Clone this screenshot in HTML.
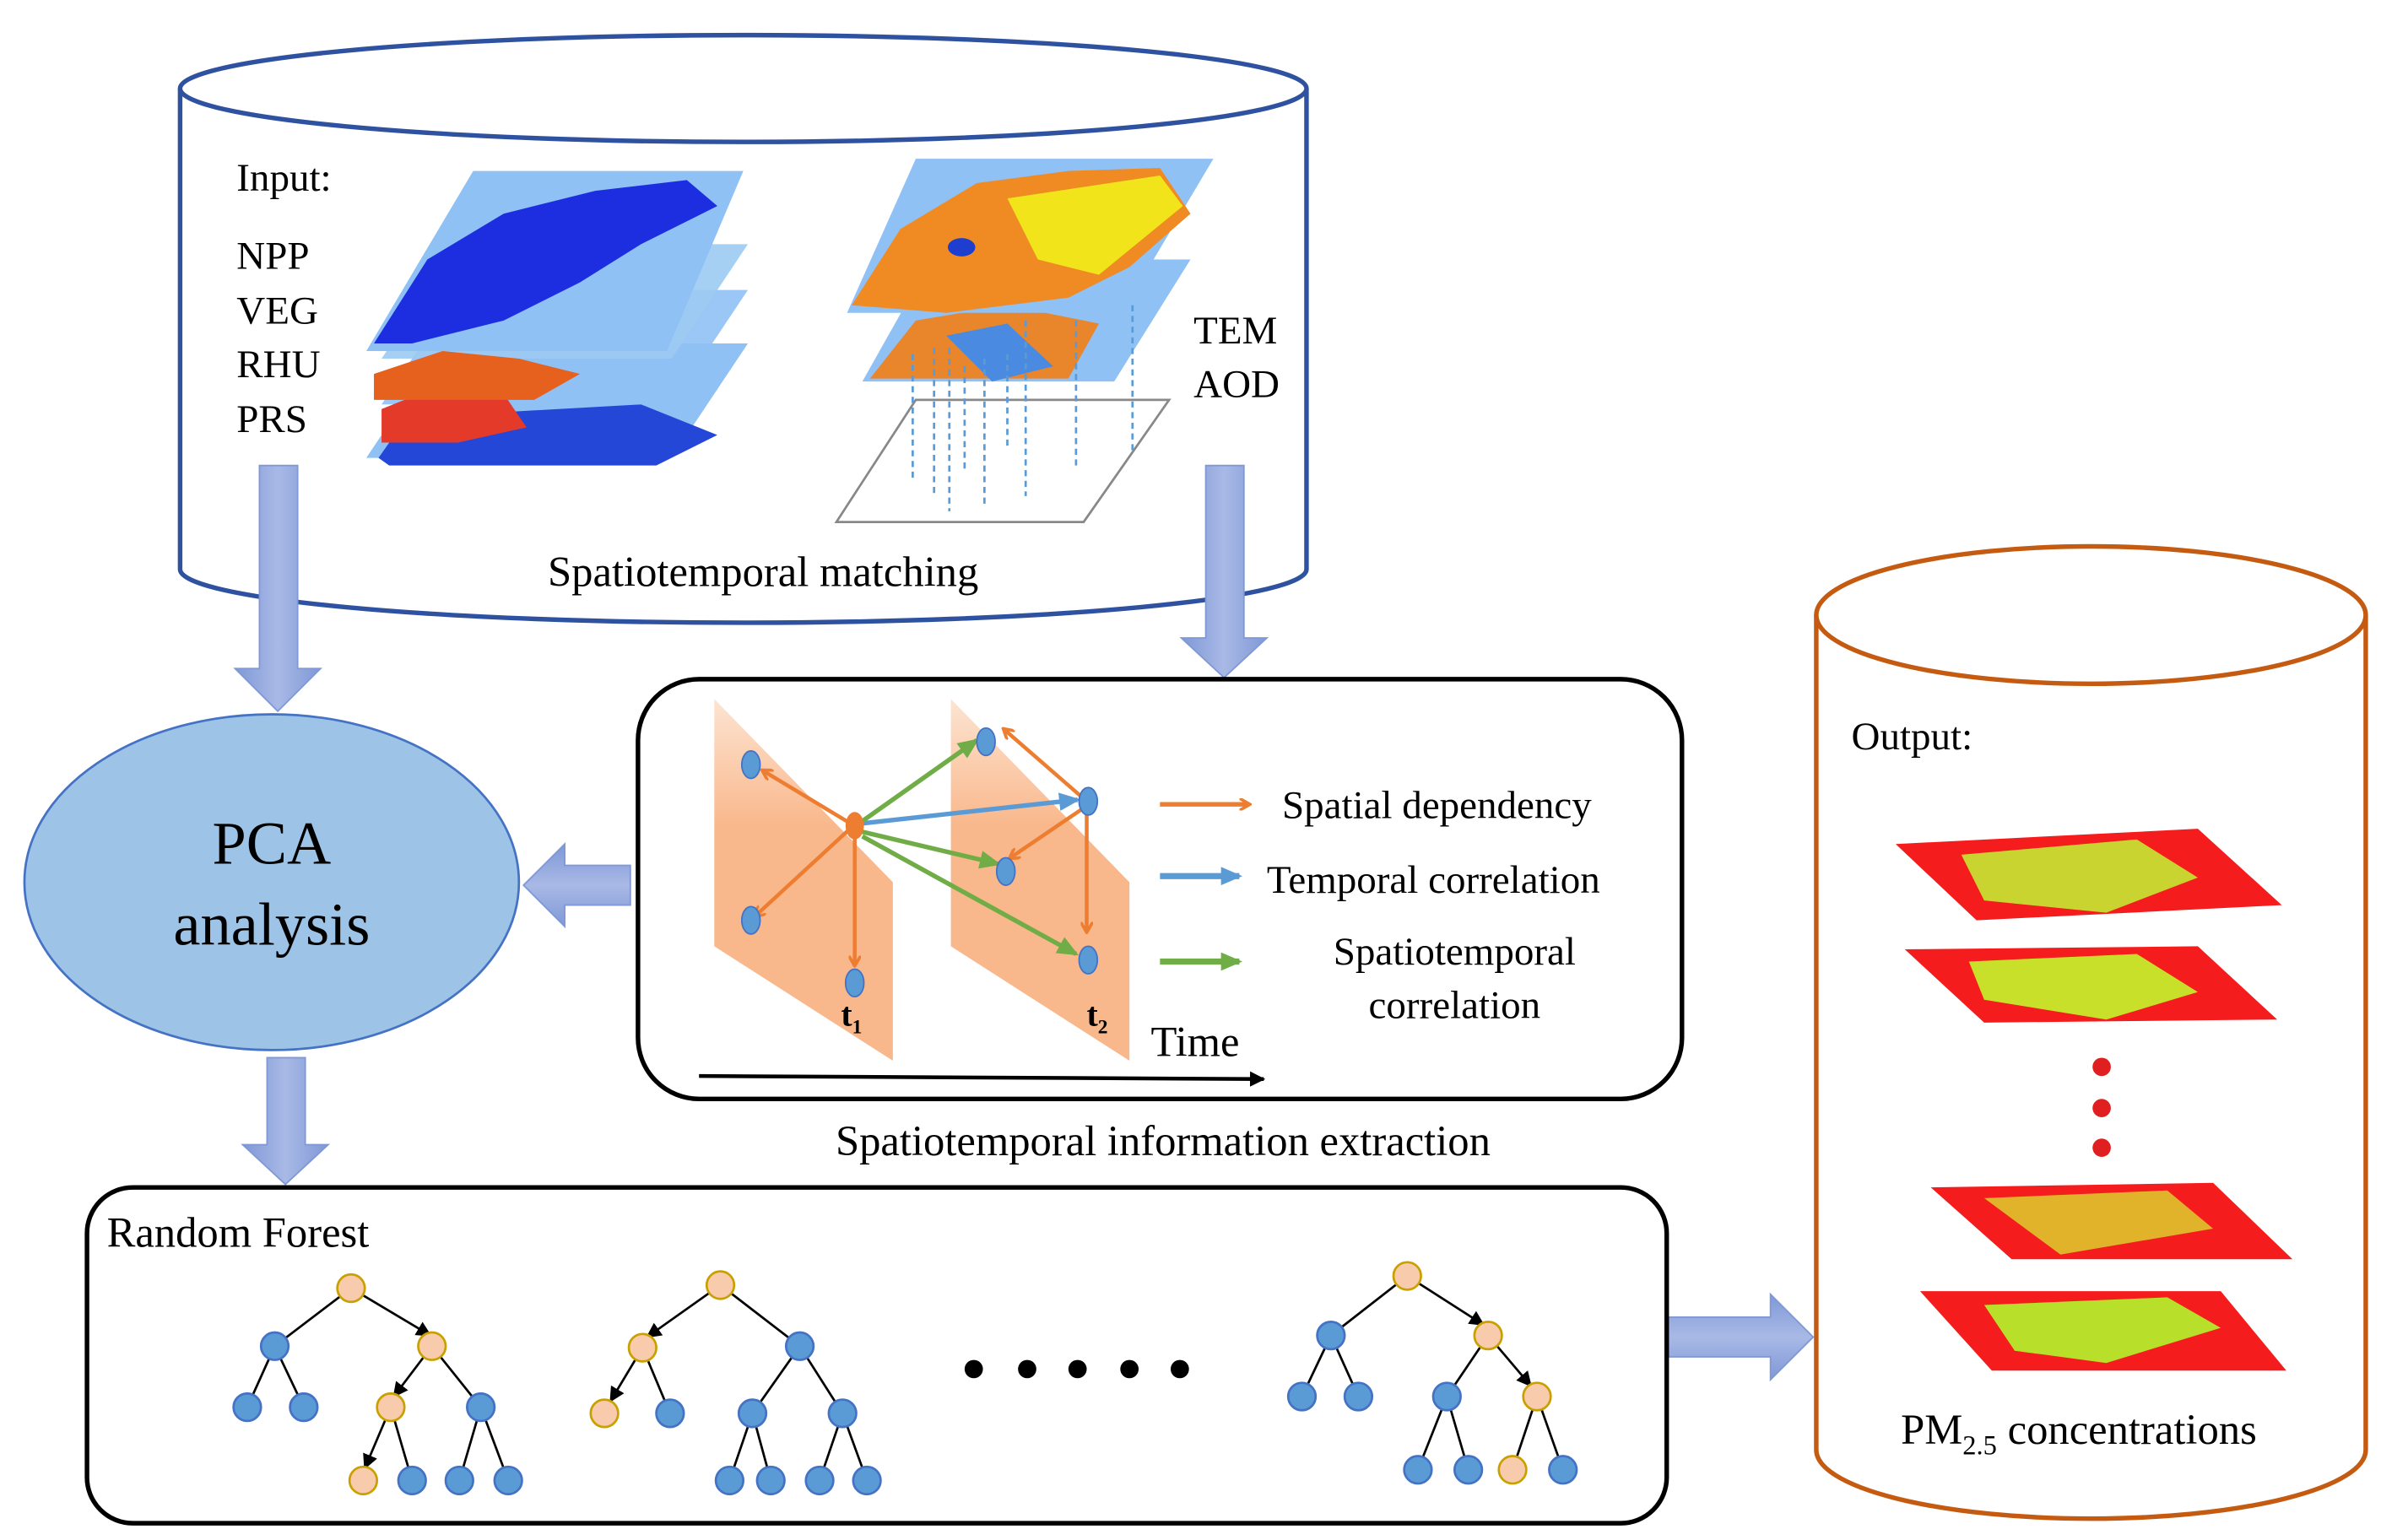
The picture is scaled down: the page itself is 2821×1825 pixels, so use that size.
<!DOCTYPE html>
<html><head><meta charset="utf-8"><style>
html,body{margin:0;padding:0;background:#fff;width:2821px;height:1825px;overflow:hidden}
svg{display:block}
svg text{font-family:"Liberation Serif","DejaVu Serif",serif !important;fill:#000}
</style></head><body>
<svg width="2821" height="1825" viewBox="0 0 1560 1009" preserveAspectRatio="none" xmlns="http://www.w3.org/2000/svg" font-family="Liberation Serif, DejaVu Serif, serif">
<defs>
<linearGradient id="ar" x1="0" y1="0" x2="1" y2="0"><stop offset="0" stop-color="#7f98d6"/><stop offset="0.5" stop-color="#a9b9e6"/><stop offset="1" stop-color="#7f98d6"/></linearGradient>
<linearGradient id="arv" x1="0" y1="0" x2="0" y2="1"><stop offset="0" stop-color="#7f98d6"/><stop offset="0.5" stop-color="#a9b9e6"/><stop offset="1" stop-color="#7f98d6"/></linearGradient>
<linearGradient id="pl" x1="0" y1="0" x2="0" y2="1"><stop offset="0" stop-color="#fde4d2"/><stop offset="0.35" stop-color="#f9b88c"/><stop offset="1" stop-color="#f9b88c"/></linearGradient>
<marker id="mo" markerWidth="8" markerHeight="8" refX="6" refY="4" orient="auto" markerUnits="userSpaceOnUse"><path d="M0,0 L7,4 L0,8" fill="none" stroke="#ed7d31" stroke-width="2"/></marker>
<marker id="mb" markerWidth="14" markerHeight="12" refX="12" refY="6" orient="auto" markerUnits="userSpaceOnUse"><path d="M0,0 L14,6 L0,12z" fill="#5b9bd5"/></marker>
<marker id="mg" markerWidth="14" markerHeight="12" refX="12" refY="6" orient="auto" markerUnits="userSpaceOnUse"><path d="M0,0 L14,6 L0,12z" fill="#70ad47"/></marker>
<marker id="mk" markerWidth="10" markerHeight="10" refX="9" refY="5" orient="auto" markerUnits="userSpaceOnUse"><path d="M0,0 L10,5 L0,10z" fill="#000"/></marker>
</defs>

<path d="M118,58 L118,373 A369,35 0 0 0 856,373 L856,58" fill="#fff" stroke="#2f52a0" stroke-width="3"/>
<ellipse cx="487" cy="58" rx="369" ry="35" fill="#fff" stroke="#2f52a0" stroke-width="3"/>
<text x="155" y="125" font-size="26">Input:</text>
<text x="155" y="176" font-size="26">NPP</text>
<text x="155" y="212" font-size="26">VEG</text>
<text x="155" y="247" font-size="26">RHU</text>
<text x="155" y="283" font-size="26">PRS</text>
<text x="782" y="225" font-size="26">TEM</text>
<text x="782" y="260" font-size="26">AOD</text>
<polygon points="290,225 490,225 440,300 240,300" fill="#8fc1f5"/>
<path d="M248,300 L262,280 L330,270 L420,265 L470,285 L430,305 L255,305z" fill="#2447d8"/>
<polygon points="300,190 490,190 440,265 250,265" fill="#8fc1f5" opacity="0.9"/>
<path d="M250,268 L265,262 L330,258 L345,280 L300,290 L250,290z" fill="#e43a2a"/>
<polygon points="300,160 490,160 440,235 250,235" fill="#9ccaf3" opacity="0.9"/>
<path d="M245,245 L290,230 L340,235 L380,245 L350,262 L245,262z" fill="#e6601e"/>
<polygon points="310,112 487,112 437,230 240,230" fill="#8fc1f5"/>
<path d="M245,225 L280,170 L330,140 L390,125 L450,118 L470,135 L420,160 L380,185 L330,210 L270,225z" fill="#1d2ee0"/>
<polygon points="600,262 766,262 710,342 548,342" fill="#fff" stroke="#888" stroke-width="1.5"/>
<polygon points="610,170 780,170 730,250 565,250" fill="#8fc1f5"/>
<path d="M570,248 L600,210 L660,200 L720,212 L700,248z" fill="#e9852a"/>
<path d="M620,220 L660,212 L690,240 L650,250z" fill="#4a8ae0"/>
<polygon points="600,104 795,104 735,205 555,205" fill="#8fc1f5"/>
<path d="M558,200 L590,150 L640,120 L700,112 L760,110 L780,140 L740,175 L700,195 L620,205z" fill="#f08a22"/>
<path d="M660,130 L760,115 L775,135 L720,180 L680,170z" fill="#f2e41b"/>
<ellipse cx="630" cy="162" rx="9" ry="6" fill="#1e3ed0"/>
<g stroke="#5b9bd5" stroke-width="1.5" stroke-dasharray="4,3">
<line x1="598" y1="232" x2="598" y2="315"/><line x1="612" y1="228" x2="612" y2="325"/><line x1="622" y1="228" x2="622" y2="335"/><line x1="632" y1="240" x2="632" y2="310"/><line x1="645" y1="235" x2="645" y2="330"/><line x1="660" y1="232" x2="660" y2="295"/><line x1="672" y1="210" x2="672" y2="325"/><line x1="705" y1="210" x2="705" y2="305"/><line x1="742" y1="200" x2="742" y2="295"/>
</g>
<text x="500" y="384" font-size="28" text-anchor="middle">Spatiotemporal matching</text>

<polygon points="170,305 195,305 195,438 210,438 182,466 154,438 170,438" fill="url(#ar)" stroke="#7f98d6"/>
<polygon points="790,305 815,305 815,418 830,418 802,444 774,418 790,418" fill="url(#ar)" stroke="#7f98d6"/>
<polygon points="413,567 370,567 370,553 343,580 370,607 370,593 413,593" fill="url(#arv)" stroke="#7f98d6"/>
<polygon points="175,693 200,693 200,750 215,750 187,776 159,750 175,750" fill="url(#ar)" stroke="#7f98d6"/>
<polygon points="1093,863 1160,863 1160,848 1188,876 1160,904 1160,889 1093,889" fill="url(#arv)" stroke="#7f98d6"/>

<ellipse cx="178" cy="578" rx="162" ry="110" fill="#9dc3e6" stroke="#4472c4" stroke-width="1.5"/>
<text x="178" y="566" font-size="40" text-anchor="middle">PCA</text>
<text x="178" y="619" font-size="40" text-anchor="middle">analysis</text>

<rect x="418" y="445" width="684" height="275" rx="40" fill="#fff" stroke="#000" stroke-width="3"/>
<polygon points="468,458 585,578 585,695 468,620" fill="url(#pl)"/>
<polygon points="623,458 740,578 740,695 623,620" fill="url(#pl)"/>
<g stroke="#ed7d31" stroke-width="2.5" fill="none" marker-end="url(#mo)">
<line x1="558" y1="540" x2="500" y2="505"/><line x1="558" y1="542" x2="495" y2="600"/><line x1="560" y1="545" x2="560" y2="632"/>
<line x1="712" y1="525" x2="658" y2="478"/><line x1="712" y1="528" x2="662" y2="562"/><line x1="712" y1="530" x2="712" y2="610"/>
</g>
<line x1="560" y1="540" x2="706" y2="524" stroke="#5b9bd5" stroke-width="3" marker-end="url(#mb)"/>
<g stroke="#70ad47" stroke-width="3" marker-end="url(#mg)">
<line x1="565" y1="538" x2="640" y2="485"/><line x1="565" y1="545" x2="654" y2="566"/><line x1="565" y1="548" x2="705" y2="625"/>
</g>
<g fill="#5b9bd5" stroke="#4472c4"><ellipse cx="492" cy="501" rx="6" ry="9"/><ellipse cx="492" cy="603" rx="6" ry="9"/><ellipse cx="560" cy="644" rx="6" ry="9"/><ellipse cx="646" cy="486" rx="6" ry="9"/><ellipse cx="713" cy="525" rx="6" ry="9"/><ellipse cx="659" cy="571" rx="6" ry="9"/><ellipse cx="713" cy="629" rx="6" ry="9"/></g>
<ellipse cx="560" cy="541" rx="6" ry="9" fill="#ed7d31"/>
<text x="551" y="672" font-size="22" font-weight="bold">t<tspan font-size="13" dy="5">1</tspan></text>
<text x="712" y="672" font-size="22" font-weight="bold">t<tspan font-size="13" dy="5">2</tspan></text>
<text x="754" y="692" font-size="28">Time</text>
<line x1="458" y1="705" x2="828" y2="707" stroke="#000" stroke-width="2.5" marker-end="url(#mk)"/>
<line x1="760" y1="527" x2="818" y2="527" stroke="#ed7d31" stroke-width="3" marker-end="url(#mo)"/>
<line x1="760" y1="574" x2="812" y2="574" stroke="#5b9bd5" stroke-width="4" marker-end="url(#mb)"/>
<line x1="760" y1="630" x2="812" y2="630" stroke="#70ad47" stroke-width="4" marker-end="url(#mg)"/>
<text x="840" y="536" font-size="26">Spatial dependency</text>
<text x="830" y="585" font-size="26">Temporal correlation</text>
<text x="953" y="632" font-size="26" text-anchor="middle">Spatiotemporal</text>
<text x="953" y="667" font-size="26" text-anchor="middle">correlation</text>
<text x="762" y="757" font-size="28" text-anchor="middle">Spatiotemporal information extraction</text>

<rect x="57" y="778" width="1035" height="220" rx="30" fill="#fff" stroke="#000" stroke-width="3"/>
<text x="70" y="817" font-size="28">Random Forest</text>
<g stroke="#000" stroke-width="1.5" fill="none">
<line x1="230" y1="844" x2="180" y2="882"/><line x1="230" y1="844" x2="282" y2="875" marker-end="url(#mk)"/>
<line x1="180" y1="882" x2="162" y2="922"/><line x1="180" y1="882" x2="199" y2="922"/>
<line x1="283" y1="882" x2="258" y2="915" marker-end="url(#mk)"/><line x1="283" y1="882" x2="315" y2="922"/>
<line x1="256" y1="922" x2="239" y2="962" marker-end="url(#mk)"/><line x1="256" y1="922" x2="270" y2="970"/>
<line x1="315" y1="922" x2="301" y2="970"/><line x1="315" y1="922" x2="333" y2="970"/>
<line x1="472" y1="842" x2="424" y2="876" marker-end="url(#mk)"/><line x1="472" y1="842" x2="524" y2="882"/>
<line x1="421" y1="883" x2="400" y2="918" marker-end="url(#mk)"/><line x1="421" y1="883" x2="439" y2="926"/>
<line x1="524" y1="882" x2="493" y2="926"/><line x1="524" y1="882" x2="552" y2="926"/>
<line x1="493" y1="926" x2="478" y2="970"/><line x1="493" y1="926" x2="505" y2="970"/>
<line x1="552" y1="926" x2="537" y2="970"/><line x1="552" y1="926" x2="568" y2="970"/>
<line x1="922" y1="836" x2="872" y2="875"/><line x1="922" y1="836" x2="972" y2="868" marker-end="url(#mk)"/>
<line x1="872" y1="875" x2="853" y2="915"/><line x1="872" y1="875" x2="890" y2="915"/>
<line x1="975" y1="875" x2="948" y2="915"/><line x1="975" y1="875" x2="1003" y2="908" marker-end="url(#mk)"/>
<line x1="948" y1="915" x2="929" y2="963"/><line x1="948" y1="915" x2="962" y2="963"/>
<line x1="1007" y1="915" x2="991" y2="963"/><line x1="1007" y1="915" x2="1024" y2="963"/>
</g>
<g fill="#5b9bd5" stroke="#4472c4" stroke-width="1.5">
<circle cx="180" cy="882" r="9"/><circle cx="162" cy="922" r="9"/><circle cx="199" cy="922" r="9"/><circle cx="315" cy="922" r="9"/><circle cx="270" cy="970" r="9"/><circle cx="301" cy="970" r="9"/><circle cx="333" cy="970" r="9"/>
<circle cx="524" cy="882" r="9"/><circle cx="439" cy="926" r="9"/><circle cx="493" cy="926" r="9"/><circle cx="552" cy="926" r="9"/><circle cx="478" cy="970" r="9"/><circle cx="505" cy="970" r="9"/><circle cx="537" cy="970" r="9"/><circle cx="568" cy="970" r="9"/>
<circle cx="872" cy="875" r="9"/><circle cx="853" cy="915" r="9"/><circle cx="890" cy="915" r="9"/><circle cx="948" cy="915" r="9"/><circle cx="929" cy="963" r="9"/><circle cx="962" cy="963" r="9"/><circle cx="1024" cy="963" r="9"/>
</g>
<g fill="#f8cbad" stroke="#c9a000" stroke-width="1.5">
<circle cx="230" cy="844" r="9"/><circle cx="283" cy="882" r="9"/><circle cx="256" cy="922" r="9"/><circle cx="238" cy="970" r="9"/>
<circle cx="472" cy="842" r="9"/><circle cx="421" cy="883" r="9"/><circle cx="396" cy="926" r="9"/>
<circle cx="922" cy="836" r="9"/><circle cx="975" cy="875" r="9"/><circle cx="1007" cy="915" r="9"/><circle cx="991" cy="963" r="9"/>
</g>
<g fill="#000"><circle cx="638" cy="897" r="6"/><circle cx="673" cy="897" r="6"/><circle cx="706" cy="897" r="6"/><circle cx="740" cy="897" r="6"/><circle cx="773" cy="897" r="6"/></g>

<path d="M1190,403 L1190,950 A180,45 0 0 0 1550,950 L1550,403" fill="#fff" stroke="#c55a11" stroke-width="3"/>
<ellipse cx="1370" cy="403" rx="180" ry="45" fill="#fff" stroke="#c55a11" stroke-width="3"/>
<text x="1213" y="491" font-size="26">Output:</text>
<g>
<polygon points="1242,553 1440,543 1495,593 1295,603" fill="#f41c1c"/><path d="M1285,560 L1400,550 L1440,575 L1380,598 L1300,590z" fill="#c9d431"/>
<polygon points="1248,622 1440,620 1492,668 1300,670" fill="#f41c1c"/><path d="M1290,630 L1400,625 L1440,650 L1380,668 L1300,655z" fill="#c9e02a"/>
<polygon points="1265,778 1450,775 1502,825 1318,825" fill="#f41c1c"/><path d="M1300,785 L1420,780 L1450,805 L1350,822z" fill="#e0b32a"/>
<polygon points="1258,846 1455,846 1498,898 1305,898" fill="#f41c1c"/><path d="M1300,855 L1420,850 L1455,870 L1380,893 L1320,885z" fill="#b8e02a"/>
</g>
<g fill="#e02020"><circle cx="1377" cy="699" r="6"/><circle cx="1377" cy="726" r="6"/><circle cx="1377" cy="752" r="6"/></g>
<text x="1362" y="946" font-size="28" text-anchor="middle">PM<tspan font-size="18" dy="7">2.5</tspan><tspan dy="-7"> concentrations</tspan></text>
</svg>
</body></html>
